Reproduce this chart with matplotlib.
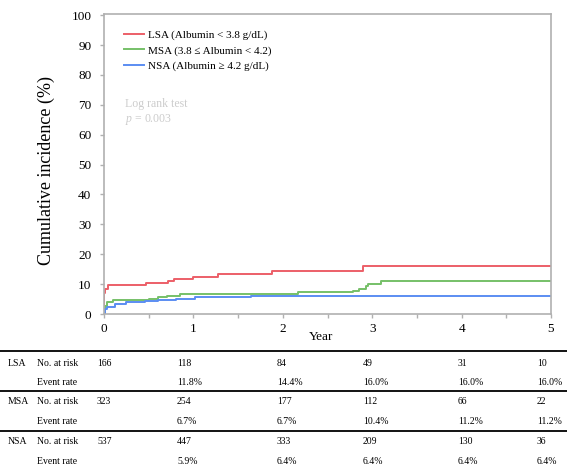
import matplotlib
matplotlib.use("Agg")
import matplotlib.pyplot as plt
from matplotlib.lines import Line2D

plt.rcParams['font.family'] = ['Liberation Serif', 'DejaVu Serif']
plt.rcParams['mathtext.fontset'] = 'custom'
plt.rcParams['mathtext.it'] = 'Liberation Serif:italic'

# cumulative incidence curves (%), step times in years
lsa_t = [0, 0.005, 0.01, 0.04, 0.47, 0.72, 0.78, 1.0, 1.27, 1.88, 2.9, 5.0]
lsa_y = [0, 7.0, 8.5, 9.7, 10.5, 11.2, 11.8, 12.5, 13.4, 14.3, 16.0, 16.0]

msa_t = [0, 0.01, 0.03, 0.1, 0.3, 0.5, 0.6, 0.7, 0.85, 2.17, 2.78, 2.85, 2.93, 2.95, 3.1, 5.0]
msa_y = [0, 2.8, 4.0, 4.6, 4.8, 5.1, 5.6, 6.1, 6.6, 7.2, 7.8, 8.5, 9.3, 10.2, 11.0, 11.0]

nsa_t = [0, 0.01, 0.03, 0.12, 0.25, 0.46, 0.6, 0.8, 1.02, 1.33, 1.64, 5.0]
nsa_y = [0, 1.8, 2.4, 3.4, 3.9, 4.5, 4.8, 5.1, 5.6, 5.8, 6.1, 6.1]

labels = ['LSA (Albumin < 3.8 g/dL)', 'MSA (3.8 \u2264 Albumin < 4.2)', 'NSA (Albumin \u2265 4.2 g/dL)']
colors = ['#ec5f68', '#76c068', '#5b8df2']

# risk table
groups = ['LSA', 'MSA', 'NSA']
at_risk = [[166, 118, 84, 49, 31, 10],
           [323, 254, 177, 112, 66, 22],
           [537, 447, 333, 209, 130, 36]]
event_rate = [['', '11.8%', '14.4%', '16.0%', '16.0%', '16.0%'],
              ['', '6.7%', '6.7%', '10.4%', '11.2%', '11.2%'],
              ['', '5.9%', '6.4%', '6.4%', '6.4%', '6.4%']]

W, H = 567, 465
fig = plt.figure(figsize=(W / 100, H / 100), dpi=100)
ax = fig.add_axes([104 / W, 1 - 314 / H, (551 - 104) / W, (314 - 14) / H])

for t, y, c, lab in zip([lsa_t, msa_t, nsa_t], [lsa_y, msa_y, nsa_y], colors, labels):
    ax.step(t, y, where='post', color=c, lw=1.4, label=lab)

ax.set_xlim(0, 5)
ax.set_ylim(0, 100.4)
ax.set_yticks(range(0, 101, 10))
ax.set_xticks(range(0, 6))
ax.set_xticks([0.5, 1.5, 2.5, 3.5, 4.5], minor=True)
for s in ax.spines.values():
    s.set_color('#b0b0b0')
    s.set_linewidth(1.2)
ax.tick_params(axis='both', which='both', colors='#b0b0b0', labelcolor='black', labelsize=9.5, length=3, width=1)
ax.tick_params(axis='y', pad=6)

ax.set_ylabel('Cumulative incidence (%)', fontsize=13)
ax.yaxis.set_label_coords(-0.11, 0.48)
ax.set_xlabel('Year', fontsize=9.5, labelpad=1)
ax.xaxis.set_label_coords(0.485, -0.055)

ax.legend(loc='upper left', bbox_to_anchor=(0.023, 0.98), frameon=False, fontsize=8,
          handlelength=1.8, handletextpad=0.3, labelspacing=0.5)

ax.text(0.047, 0.69, 'Log rank test', transform=ax.transAxes, fontsize=8.5, color='#cccccc')
ax.text(0.047, 0.64, '$p$ = 0.003', transform=ax.transAxes, fontsize=8.5, color='#cccccc')

# table below the plot
col_x = [97, 177, 277, 363, 458, 537]
row_y = [[363, 382], [401, 421], [441, 461]]
for y in [351, 391, 431]:
    fig.add_artist(Line2D([0, 1], [1 - y / H] * 2, color='black', lw=1.3, transform=fig.transFigure))

def put(x, y, s):
    fig.text(x / W, 1 - y / H, s, fontsize=7, va='center', ha='left')

for g, n, e, (y1, y2) in zip(groups, at_risk, event_rate, row_y):
    put(8, y1, g)
    put(37, y1, 'No. at risk')
    put(37, y2, 'Event rate')
    for x, v in zip(col_x, n):
        put(x, y1, str(v))
    for x, v in zip(col_x, e):
        put(x, y2, v)

fig.savefig('out.png', dpi=100)
